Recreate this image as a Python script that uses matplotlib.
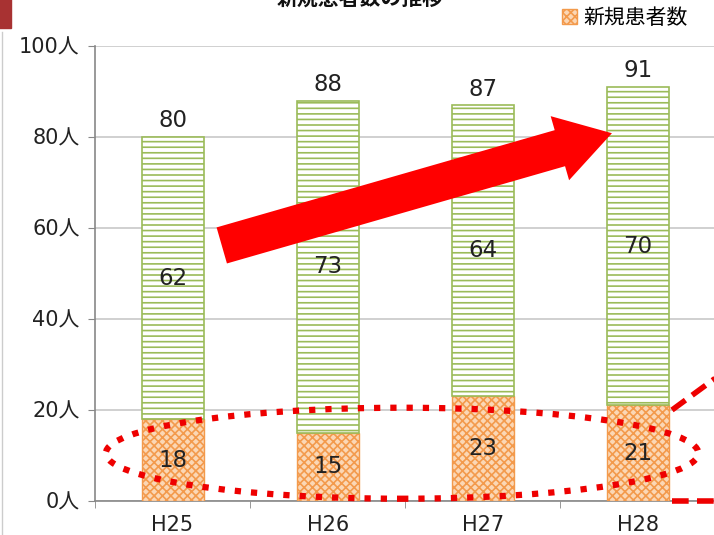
import matplotlib.pyplot as plt
from matplotlib.patches import Ellipse, Rectangle
import numpy as np

plt.rcParams['font.family'] = ['DejaVu Sans', 'Noto Sans CJK JP']
plt.rcParams['hatch.linewidth'] = 1.2

years = ['H25', 'H26', 'H27', 'H28']
new_patients = [18, 15, 23, 21]
other_patients = [62, 73, 64, 70]
totals = [80, 88, 87, 91]
y_ticks = [0, 20, 40, 60, 80, 100]

fig = plt.figure(figsize=(7.14, 5.35), dpi=100)
ax = fig.add_axes([95 / 714, 1 - 501 / 535, 1 - 95 / 714 + 0.002, (501 - 46) / 535])

x = np.arange(len(years))
w = 0.4

ax.bar(x, new_patients, w, color='#fbd7b5', edgecolor='#f39a4c', hatch='xxxx',
       linewidth=1.0, label='新規患者数', zorder=3)
ax.bar(x, other_patients, w, bottom=new_patients, color='white', edgecolor='#9bbb59',
       hatch='---', linewidth=1.2, zorder=3)

for i in range(len(years)):
    ax.text(x[i], new_patients[i] / 2, str(new_patients[i]), ha='center', va='center',
            fontsize=16.5, color='#222222', zorder=5)
    ax.text(x[i], new_patients[i] + other_patients[i] / 2, str(other_patients[i]),
            ha='center', va='center', fontsize=16.5, color='#222222', zorder=5)
    ax.text(x[i], totals[i] + 1.0, str(totals[i]), ha='center', va='bottom',
            fontsize=16.5, color='#222222', zorder=5)

ax.set_xlim(-0.5, 3.5)
ax.set_ylim(0, 100)
ax.set_yticks(y_ticks)
ax.set_yticklabels([f'{v}人' for v in y_ticks], fontsize=15, color='#222222')
ax.set_xticks(x)
ax.set_xticklabels(years, fontsize=15, color='#222222')
ax.tick_params(axis='x', length=0, pad=10)
ax.set_xticks(np.arange(-0.5, 4, 1), minor=True)
ax.tick_params(axis='x', which='minor', length=5, color='#888888', direction='out')
ax.tick_params(axis='y', length=5, color='#888888', direction='out', pad=6)
ax.grid(axis='y', color='#c8c8c8', linewidth=1.2, zorder=0)
for s in ['top', 'right']:
    ax.spines[s].set_visible(False)
ax.spines['left'].set_color('#888888')
ax.spines['bottom'].set_color('#888888')
ax.spines['left'].set_linewidth(1.2)
ax.spines['bottom'].set_linewidth(1.2)

# title, partly cut off at the top (as in the original)
fig.text(0.505, 1.003, '新規患者数の推移', ha='center', va='center', fontsize=15,
         fontweight='bold', color='#111111', family=['Noto Sans CJK JP'])

# legend
ax.legend(loc='upper right', bbox_to_anchor=(0.985, 1.125), frameon=False, fontsize=15,
          handlelength=0.7, handleheight=0.7, handletextpad=0.3)

# red trend arrow
ax.annotate('', xy=(2.85, 81), xytext=(0.3, 56),
            arrowprops=dict(arrowstyle='simple,head_length=1.3,head_width=1.6,tail_width=0.9',
                            color='#ff0000', lw=0, mutation_scale=30), zorder=6)

# dotted ellipse around new patients
ell = Ellipse((1.48, 10.5), 3.82, 20, fill=False, edgecolor='#ee0000', linewidth=4.5,
              linestyle=(0, (1, 1.6)), zorder=6, clip_on=False)
ax.add_patch(ell)

# dashed red lines at right edge
ax.plot([3.22, 3.5], [20, 27], color='#ee0000', lw=4, ls=(0, (3, 1.5)), zorder=6,
        clip_on=False)
ax.plot([3.22, 3.5], [0, 0], color='#ee0000', lw=4, ls=(0, (3, 1.5)), zorder=6,
        clip_on=False)

# decorative corner shape and left frame line
fig.patches.append(Rectangle((-0.02, 1 - 28 / 535), 0.035, 0.06, transform=fig.transFigure,
                             color='#a83232', zorder=1))
fig.add_artist(plt.Line2D([0.003, 0.003], [0, 0.94], color='#cccccc', lw=1,
                          transform=fig.transFigure))

fig.savefig('out.png', dpi=100)
